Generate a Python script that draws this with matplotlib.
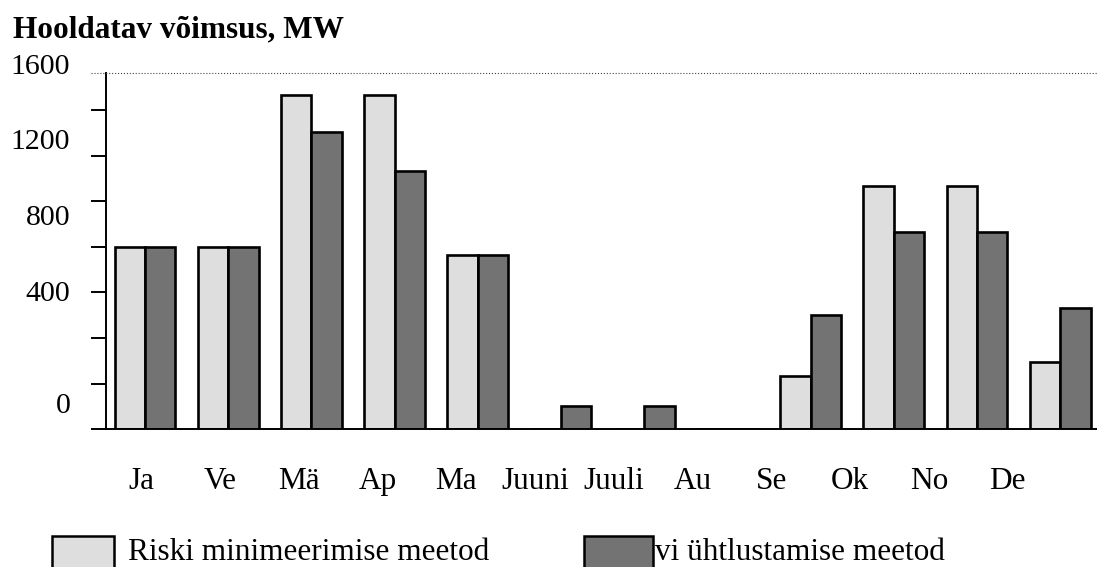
import numpy as np
import matplotlib.pyplot as plt
from matplotlib.patches import Rectangle
from matplotlib.lines import Line2D

# data (MW)
months = ['Ja', 'Ve', 'Mä', 'Ap', 'Ma', 'Juuni', 'Juuli', 'Au', 'Se', 'Ok', 'No', 'De']
risk_min = [800, 800, 1467, 1467, 765, 0, 0, 0, 234, 1068, 1068, 297]
smoothing = [800, 800, 1302, 1134, 765, 100, 100, 0, 500, 865, 865, 531]

y_labels = ['1600', '1200', '800', '400', '0']
y_label_pos = [1558, 1228, 896, 564, 70]   # labels sit off the ticks in the original

series_names = ['Riski minimeerimise meetod', 'vi ühtlustamise meetod']
light = '#dedede'
dark = '#737373'

plt.rcParams['font.family'] = ['Liberation Serif', 'DejaVu Serif']

W, H = 1097, 567
fig = plt.figure(figsize=(W / 100, H / 100), dpi=100)
ax = fig.add_axes([106 / W, 1 - 429.3 / H, (W - 106) / W, (429.3 - 72.7) / H])

x = np.arange(len(months))
bw = 0.366
ax.bar(x - bw / 2, risk_min, bw, color=light, edgecolor='black', linewidth=1.9)
ax.bar(x + bw / 2, smoothing, bw, color=dark, edgecolor='black', linewidth=1.9)

ax.set_xlim(-0.469, 11.442)
ax.set_ylim(0, 1564)

# y axis: ticks every 200, labels placed by hand
ax.set_yticks(np.arange(0, 1600, 200))
ax.set_yticklabels([])
ax.tick_params(axis='y', direction='out', length=10.8, width=1.4)
for lab, pos in zip(y_labels, y_label_pos):
    ax.text(-0.036, pos, lab, transform=ax.get_yaxis_transform(),
            ha='right', va='baseline', fontsize=21.5, clip_on=False)

# month labels drift left of their bars, as in the scan
label_pos = -0.048 + 0.947 * x
ax.set_xticks(label_pos)
ax.set_xticklabels(months, fontsize=22.5)
ax.tick_params(axis='x', length=0, pad=27)

for s in ['top', 'right']:
    ax.spines[s].set_visible(False)
ax.spines['left'].set_linewidth(1.4)
ax.spines['bottom'].set_linewidth(1.4)

# dotted line along the top
fig.add_artist(Line2D([91 / W, 1.0], [1 - 72.7 / H] * 2, transform=fig.transFigure,
                      linestyle=':', linewidth=0.8, color='#444444'))

fig.text(13 / W, 1 - 37 / H, 'Hooldatav võimsus, MW', fontsize=22.5,
         fontweight='bold', va='baseline')

# legend
sw_y = 1 - 570 / H
sw_h = (570 - 536) / H
fig.add_artist(Rectangle((51.7 / W, sw_y), (114.3 - 51.7) / W, sw_h, transform=fig.transFigure,
                         facecolor=light, edgecolor='black', linewidth=1.8))
fig.text(128 / W, 1 - 559.5 / H, series_names[0], fontsize=22.5, va='baseline')
fig.add_artist(Rectangle((584 / W, sw_y), (653 - 584) / W, sw_h, transform=fig.transFigure,
                         facecolor=dark, edgecolor='black', linewidth=1.8))
fig.text(655 / W, 1 - 559.5 / H, series_names[1], fontsize=22.5, va='baseline')

fig.savefig('out.png', dpi=100)
